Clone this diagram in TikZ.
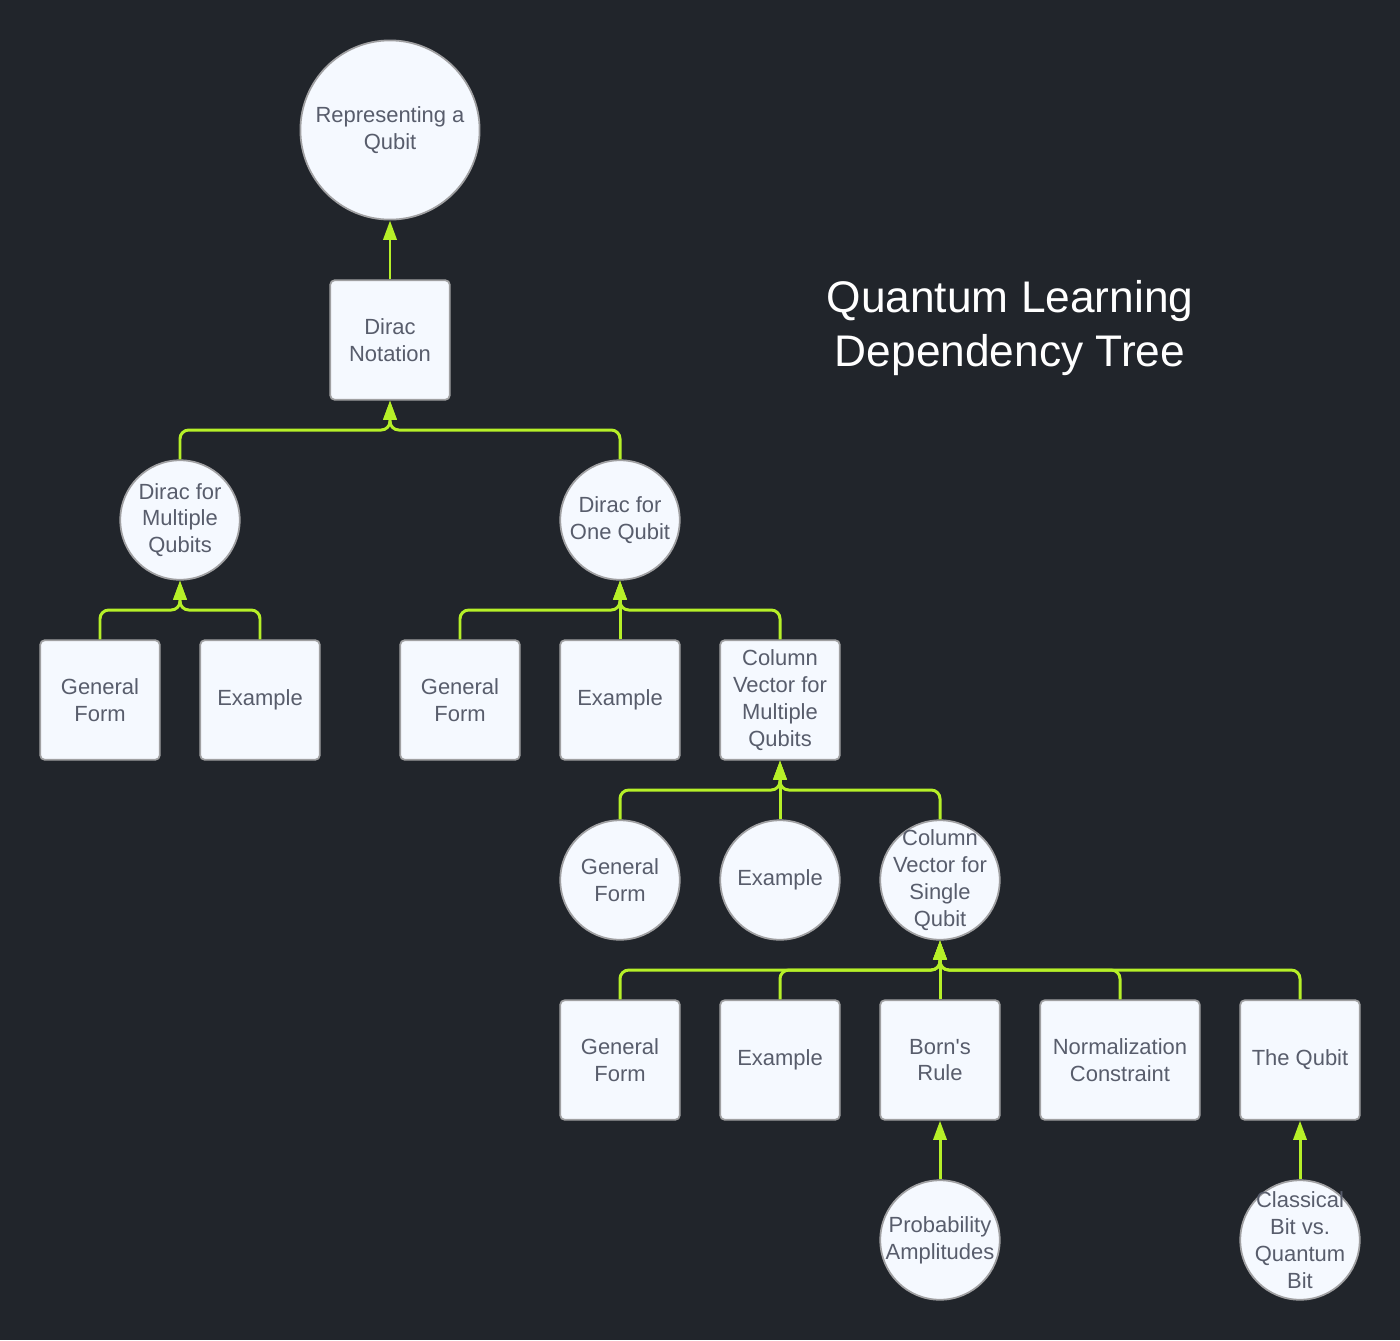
\documentclass[tikz,border=0pt]{standalone}
\usepackage{fontspec}
\setmainfont{Liberation Sans}
\usepackage{tikz}
\usetikzlibrary{arrows.meta}

\definecolor{bgdark}{RGB}{33,37,43}
\definecolor{nodefill}{RGB}{245,249,255}
\definecolor{nodeedge}{RGB}{160,160,162}
\definecolor{nodetext}{RGB}{88,93,108}
\definecolor{lime}{RGB}{182,240,40}

\tikzset{
  topic/.style={draw=nodeedge, line width=1pt, fill=nodefill, text=nodetext,
    align=center, font=\fontsize{12.5}{15.3}\selectfont},
  boxnode/.style={topic, rectangle, rounded corners=2.5pt, minimum width=68pt,
    minimum height=68pt, inner sep=0pt},
  circnode/.style={topic, circle, minimum size=68pt, inner sep=-5pt},
  link/.style={draw=lime, line width=1.7pt, rounded corners=5pt,
    -{Triangle[length=11pt,width=7.5pt]}}
}

\begin{document}
\begin{tikzpicture}[x=0.02cm,y=-0.02cm]
    \fill[bgdark] (0,0) rectangle (1400,1340);

    % levels of the horizontal buses
    \coordinate (busA) at (0,430);
    \coordinate (busB) at (0,610);
    \coordinate (busC) at (0,790);
    \coordinate (busD) at (0,970);

    \node[white, align=center, font=\fontsize{25.2}{30.6}\selectfont] (title) at (1010,328) {Quantum Learning\\Dependency Tree};

    \node[circnode, minimum size=102pt] (repq) at (390,130) {Representing a\\Qubit};
    \node[boxnode] (dirac) at (390,340) {Dirac\\Notation};

    \node[circnode] (dmulti) at (180,520) {Dirac for\\Multiple\\Qubits};
    \node[circnode] (done) at (620,520) {Dirac for\\One Qubit};

    \node[boxnode] (gfA) at (100,700) {General\\Form};
    \node[boxnode] (exA) at (260,700) {Example};
    \node[boxnode] (gfB) at (460,700) {General\\Form};
    \node[boxnode] (exB) at (620,700) {Example};
    \node[boxnode] (cvmulti) at (780,700) {Column\\Vector for\\Multiple\\Qubits};

    \node[circnode] (gfC) at (620,880) {General\\Form};
    \node[circnode] (exC) at (780,880) {Example};
    \node[circnode] (cvsingle) at (940,880) {Column\\Vector for\\Single\\Qubit};

    \node[boxnode] (gfD) at (620,1060) {General\\Form};
    \node[boxnode] (exD) at (780,1060) {Example};
    \node[boxnode] (born) at (940,1060) {Born\textquotesingle s\\Rule};
    \node[boxnode, minimum width=90.7pt] (norm) at (1120,1060) {Normalization\\Constraint};
    \node[boxnode] (qubit) at (1300,1060) {The Qubit};

    \node[circnode] (prob) at (940,1240) {Probability\\Amplitudes};
    \node[circnode] (classic) at (1300,1240) {Classical\\Bit vs.\\Quantum\\Bit};

    % dependencies
    \draw[link] (dirac.north) -- (repq.south);
    \draw[link] (dmulti.north) |- (dirac.south |- busA) -- (dirac.south);
    \draw[link] (done.north) |- (dirac.south |- busA) -- (dirac.south);

    \draw[link] (gfA.north) |- (dmulti.south |- busB) -- (dmulti.south);
    \draw[link] (exA.north) |- (dmulti.south |- busB) -- (dmulti.south);
    \draw[link] (gfB.north) |- (done.south |- busB) -- (done.south);
    \draw[link] (exB.north) -- (done.south);
    \draw[link] (cvmulti.north) |- (done.south |- busB) -- (done.south);

    \draw[link] (gfC.north) |- (cvmulti.south |- busC) -- (cvmulti.south);
    \draw[link] (exC.north) -- (cvmulti.south);
    \draw[link] (cvsingle.north) |- (cvmulti.south |- busC) -- (cvmulti.south);

    \draw[link] (gfD.north) |- (cvsingle.south |- busD) -- (cvsingle.south);
    \draw[link] (exD.north) |- (cvsingle.south |- busD) -- (cvsingle.south);
    \draw[link] (born.north) -- (cvsingle.south);
    \draw[link] (norm.north) |- (cvsingle.south |- busD) -- (cvsingle.south);
    \draw[link] (qubit.north) |- (cvsingle.south |- busD) -- (cvsingle.south);

    \draw[link] (prob.north) -- (born.south);
    \draw[link] (classic.north) -- (qubit.south);
\end{tikzpicture}
\end{document}
